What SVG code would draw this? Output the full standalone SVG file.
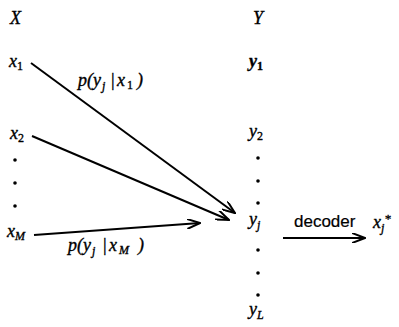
<svg xmlns="http://www.w3.org/2000/svg" width="399" height="327" viewBox="0 0 399 327">
<defs>
<style>
text{font-family:"Liberation Serif","Times New Roman",serif;font-style:italic;font-size:18px;fill:#000;stroke:#000;stroke-width:0.35}
.sub{font-size:12px}
.up{font-style:normal}
.b{font-weight:bold}
.sans{font-family:"Liberation Sans",Arial,sans-serif;font-style:normal;font-size:17px;stroke-width:0.2}
.ln{stroke:#000;stroke-width:2;fill:none}
.dot{fill:#000}
</style>
<marker id="ah" viewBox="0 0 14 10" refX="13" refY="5" markerWidth="14" markerHeight="10" markerUnits="userSpaceOnUse" orient="auto">
<path d="M0,0 L13,5 L0,10" fill="none" stroke="#000" stroke-width="2"/>
</marker>
</defs>
<rect width="399" height="327" fill="#fff"/>
<g id="header-X"><text x="10" y="24">X</text></g>
<g id="header-Y"><text x="253" y="24">Y</text></g>
<g id="x1"><text x="9" y="67">x<tspan class="sub up" dy="3">1</tspan></text></g>
<g id="x2"><text x="10" y="139">x<tspan class="sub up" dy="3">2</tspan></text></g>
<g id="xdots"><circle class="dot" cx="15" cy="160" r="1.8"/><circle class="dot" cx="15" cy="183" r="1.8"/><circle class="dot" cx="15" cy="206" r="1.8"/></g>
<g id="xM"><text x="7" y="237">x<tspan class="sub" dy="3">M</tspan></text></g>
<g id="y1"><text x="249" y="67" class="b">y<tspan class="sub up" dy="3">1</tspan></text></g>
<g id="y2"><text x="249" y="137">y<tspan class="sub up" dy="3">2</tspan></text></g>
<g id="ydots1"><circle class="dot" cx="258" cy="158" r="1.8"/><circle class="dot" cx="258" cy="181" r="1.8"/><circle class="dot" cx="258" cy="203" r="1.8"/></g>
<g id="yj"><text x="249" y="225">y<tspan class="sub" dy="4">j</tspan></text></g>
<g id="ydots2"><circle class="dot" cx="258" cy="250" r="1.8"/><circle class="dot" cx="258" cy="273" r="1.8"/><circle class="dot" cx="258" cy="295" r="1.8"/></g>
<g id="yL"><text x="249" y="315">y<tspan class="sub" dy="4">L</tspan></text></g>
<g id="xjstar"><text x="373" y="228">x<tspan class="sub" dy="4">j</tspan><tspan dy="-9" font-size="13">*</tspan></text></g>
<g id="connectors">
<line class="ln" x1="31" y1="63" x2="235" y2="213" marker-end="url(#ah)"/>
<line class="ln" x1="32" y1="136" x2="229" y2="220" marker-end="url(#ah)"/>
<line class="ln" x1="34" y1="235" x2="200" y2="223" marker-end="url(#ah)"/>
<line class="ln" x1="283" y1="238" x2="365" y2="238" marker-end="url(#ah)"/>
<text x="78" y="86">p(y<tspan class="sub" x="102" dy="4">j</tspan><tspan x="110" dy="-4">|</tspan><tspan x="117">x</tspan><tspan class="sub up" x="127" dy="3">1</tspan><tspan x="137" dy="-3">)</tspan></text>
<text x="68" y="251">p(y<tspan class="sub" x="92" dy="4">j</tspan><tspan x="102" dy="-4">|</tspan><tspan x="109">x</tspan><tspan class="sub" x="119" dy="3">M</tspan><tspan x="138" dy="-3">)</tspan></text>
<text x="294" y="227" class="sans">decoder</text>
</g>
</svg>
